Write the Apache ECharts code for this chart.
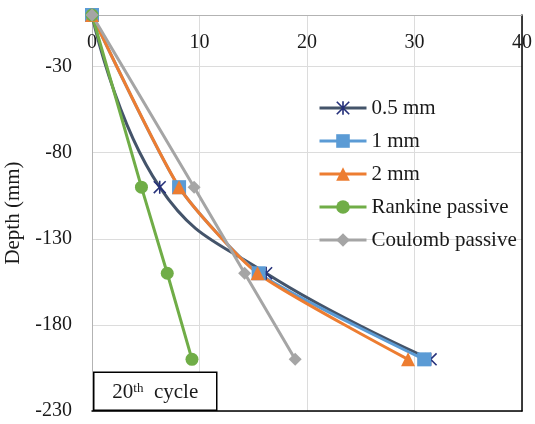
<!DOCTYPE html>
<html>
<head>
<meta charset="utf-8">
<title>Depth profile – 20th cycle</title>
<script src="https://cdn.jsdelivr.net/npm/echarts@6/dist/echarts.min.js"></script>
<style>
  html, body { margin: 0; padding: 0; background: #fff; }
  #chart { width: 535px; height: 424px; }
</style>
</head>
<body>
<div id="chart"></div>
<script>
// Depth levels (mm) shared by every curve
const depths = [0, -100, -150, -200];

// Horizontal values at each depth
const s05mm    = [0, 6.3, 16.2, 31.5];
const s1mm     = [0, 8.1, 15.5, 30.9];
const s2mm     = [0, 8.1, 15.4, 29.4];
const rankine  = [0, 4.6, 7.0, 9.3];
const coulomb  = [0, 9.5, 14.2, 18.9];

const seriesNames = ['0.5 mm', '1 mm', '2 mm', 'Rankine passive', 'Coulomb passive'];

// Axis ranges
const xTicks = [0, 10, 20, 30, 40];
const yMin = -230, yMax = 0, yStep = 50;

const FONT = '"Liberation Serif", "Times New Roman", serif';
const TEXT = '#1a1a1a';

// Six-armed asterisk marker (X plus vertical bar)
const starPath = 'path://M4.4,0 L5.6,0 L5.6,10 L4.4,10 Z ' +
                 'M0,0.85 L0.85,0 L10,9.15 L9.15,10 Z ' +
                 'M9.15,0 L10,0.85 L0.85,10 L0,9.15 Z';

function pairs(xs) {
  return xs.map((v, i) => [v, depths[i]]);
}

const grid = { left: 92, right: 13, top: 15, bottom: 13, outerBoundsMode: 'none', containLabel: false };

const chart = echarts.init(document.getElementById('chart'));

function lineSeries(name, xs, color, symbol, size, smooth, symbolColor) {
  return {
    name: name,
    type: 'line',
    data: pairs(xs),
    smooth: smooth,
    clip: false,
    symbol: symbol,
    symbolSize: size,
    showAllSymbol: true,
    lineStyle: { color: color, width: 3 },
    itemStyle: { color: symbolColor || color, borderWidth: 0 },
    emphasis: { disabled: true }
  };
}

chart.setOption({
  animation: false,
  backgroundColor: '#fff',
  textStyle: { fontFamily: FONT },
  grid: grid,
  legend: {
    orient: 'vertical',
    left: 318,
    top: 96,
    padding: 0,
    itemWidth: 47,
    itemHeight: 17,
    itemGap: 9,
    data: seriesNames,
    lineStyle: { width: 3 },
    textStyle: { fontFamily: FONT, fontSize: 21, color: TEXT, lineHeight: 24 }
  },
  xAxis: [
    {
      type: 'value',
      position: 'top',
      min: xTicks[0],
      max: xTicks[xTicks.length - 1],
      interval: xTicks[1] - xTicks[0],
      axisLine: { show: true, lineStyle: { color: '#b3b3b3', width: 1 } },
      axisTick: { show: false },
      axisLabel: { inside: true, margin: 18, fontFamily: FONT, fontSize: 20, color: TEXT },
      splitLine: { show: true, lineStyle: { color: '#dcdcdc', width: 1 } }
    },
    {
      type: 'value',
      position: 'bottom',
      min: xTicks[0],
      max: xTicks[xTicks.length - 1],
      axisLine: { show: true, onZero: false, lineStyle: { color: '#000', width: 1.5 } },
      axisTick: { show: false },
      axisLabel: { show: false },
      splitLine: { show: false }
    }
  ],
  yAxis: [
    {
      type: 'value',
      min: yMin,
      max: yMax,
      interval: yStep,
      name: 'Depth (mm)',
      nameLocation: 'middle',
      nameGap: 64,
      nameRotate: 90,
      nameTextStyle: { fontFamily: FONT, fontSize: 21, color: TEXT },
      axisLine: { show: true, onZero: false, lineStyle: { color: '#b3b3b3', width: 1 } },
      axisTick: { show: false },
      axisLabel: {
        margin: 20,
        fontFamily: FONT,
        fontSize: 20,
        color: TEXT,
        formatter: v => (v === yMax ? '' : String(v))
      },
      splitLine: { show: true, lineStyle: { color: '#dcdcdc', width: 1 } }
    },
    {
      type: 'value',
      position: 'right',
      min: yMin,
      max: yMax,
      axisLine: { show: true, onZero: false, lineStyle: { color: '#000', width: 1.5 } },
      axisTick: { show: false },
      axisLabel: { show: false },
      splitLine: { show: false }
    }
  ],
  series: [
    lineSeries(seriesNames[0], s05mm,   '#44546a', starPath,  13, 0.45, '#25307a'),
    lineSeries(seriesNames[1], s1mm,    '#5b9bd5', 'rect',    14, 0.2),
    lineSeries(seriesNames[2], s2mm,    '#ed7d31', 'triangle',14, 0.2),
    lineSeries(seriesNames[3], rankine, '#70ad47', 'circle',  13, false),
    lineSeries(seriesNames[4], coulomb, '#a5a5a5', 'diamond', 13, false)
  ],
  graphic: [
    {
      type: 'group',
      left: grid.left + 1,
      bottom: grid.bottom,
      z: 100,
      children: [
        {
          type: 'rect',
          z: 100,
          shape: { x: 0, y: 0, width: 123, height: 38 },
          style: { fill: '#fff', stroke: '#000', lineWidth: 1.5 }
        },
        {
          type: 'text',
          z: 101,
          x: 61.5,
          y: 20,
          style: {
            text: '{n|20}{s|th}{n|  cycle}',
            align: 'center',
            verticalAlign: 'middle',
            rich: {
              n: { fontFamily: FONT, fontSize: 21, fill: TEXT, verticalAlign: 'bottom' },
              s: { fontFamily: FONT, fontSize: 13, fill: TEXT, verticalAlign: 'top', padding: [0, 0, 8, 0] }
            }
          }
        }
      ]
    }
  ]
});
</script>
</body>
</html>
